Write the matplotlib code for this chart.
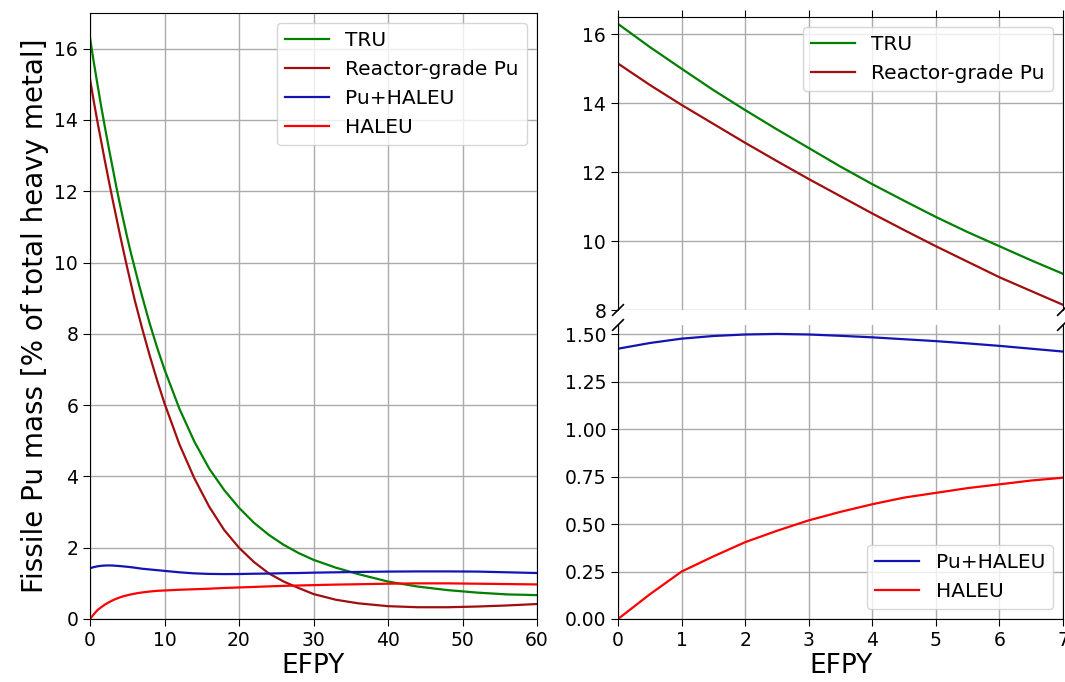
import matplotlib
matplotlib.use("Agg")
import matplotlib.pyplot as plt

# burnup time (EFPY) and fissile Pu content for each fuel type
efpy = [0, 0.5, 1, 1.5, 2, 2.5, 3, 3.5, 4, 4.5, 5, 5.5, 6, 6.5, 7, 8, 9, 10,
        12, 14, 16, 18, 20, 22, 24, 26, 28, 30, 33, 36, 40, 44, 48, 52, 56, 60]
tru = [16.3, 15.63, 15.0, 14.38, 13.8, 13.24, 12.7, 12.16, 11.65, 11.17, 10.7,
       10.26, 9.85, 9.44, 9.05, 8.3, 7.62, 7.0, 5.9, 4.98, 4.22, 3.62, 3.12,
       2.7, 2.36, 2.08, 1.85, 1.66, 1.44, 1.26, 1.05, 0.91, 0.81, 0.74, 0.69, 0.67]
rg_pu = [15.15, 14.53, 13.95, 13.4, 12.85, 12.32, 11.8, 11.3, 10.8, 10.32, 9.85,
         9.4, 8.95, 8.55, 8.15, 7.4, 6.7, 6.05, 4.9, 3.95, 3.15, 2.5, 2.0, 1.6,
         1.28, 1.05, 0.87, 0.7, 0.54, 0.44, 0.36, 0.33, 0.33, 0.35, 0.38, 0.42]
pu_haleu = [1.425, 1.455, 1.478, 1.492, 1.5, 1.503, 1.5, 1.493, 1.485, 1.475,
            1.465, 1.453, 1.44, 1.425, 1.41, 1.39, 1.37, 1.35, 1.31, 1.28, 1.265,
            1.26, 1.262, 1.27, 1.275, 1.285, 1.29, 1.3, 1.31, 1.32, 1.33, 1.335,
            1.335, 1.33, 1.31, 1.29]
haleu = [0.0, 0.13, 0.25, 0.33, 0.405, 0.465, 0.52, 0.565, 0.605, 0.64, 0.665,
         0.69, 0.71, 0.73, 0.745, 0.77, 0.79, 0.8, 0.82, 0.835, 0.85, 0.87, 0.885,
         0.9, 0.915, 0.93, 0.94, 0.95, 0.965, 0.975, 0.99, 1.0, 1.0, 0.99, 0.98, 0.97]

labels = ["TRU", "Reactor-grade Pu", "Pu+HALEU", "HALEU"]
colors = ["green", "#a00e0e", "#1414b4", "red"]
series = [tru, rg_pu, pu_haleu, haleu]

W, H = 1065, 682
fig = plt.figure(figsize=(W / 100, H / 100), dpi=100)


def box(x0, y0, x1, y1):
    return [x0 / W, 1 - y1 / H, (x1 - x0) / W, (y1 - y0) / H]


fs = 13.5
lfs = 14.5
lw = 1.6

# full range
ax = fig.add_axes(box(90, 13, 537, 619))
for ys, lab, c in zip(series, labels, colors):
    ax.plot(efpy, ys, color=c, lw=lw, label=lab)
ax.set_xlim(0, 60)
ax.set_ylim(0, 17)
ax.set_yticks(range(0, 17, 2))
ax.grid(True, color="#ababab", lw=1)
ax.tick_params(labelsize=fs, length=5)
ax.set_xlabel("EFPY", fontsize=19, labelpad=2)
ax.set_ylabel("Fissile Pu mass [% of total heavy metal]", fontsize=20)
ax.legend(loc="upper right", fontsize=lfs, handlelength=2.2)

# first 7 years, broken y axis
top = fig.add_axes(box(618, 17, 1063, 310))
bot = fig.add_axes(box(618, 325, 1063, 619))
for a in (top, bot):
    for ys, lab, c in zip(series, labels, colors):
        a.plot(efpy, ys, color=c, lw=lw, label=lab)
    a.set_xlim(0, 7)
    a.set_xticks(range(8))
    a.grid(True, color="#ababab", lw=1)
    a.tick_params(labelsize=fs, length=5)

top.set_ylim(8, 16.5)
top.set_yticks([8, 10, 12, 14, 16])
top.spines["bottom"].set_visible(False)
top.xaxis.tick_top()
top.tick_params(labeltop=False)

bot.set_ylim(0, 1.55)
bot.set_yticks([0, 0.25, 0.5, 0.75, 1.0, 1.25, 1.5])
bot.set_yticklabels(["0.00", "0.25", "0.50", "0.75", "1.00", "1.25", "1.50"])
bot.spines["top"].set_visible(False)
bot.xaxis.tick_bottom()
bot.set_xlabel("EFPY", fontsize=19, labelpad=2)

h, l = top.get_legend_handles_labels()
top.legend(h[:2], l[:2], loc="upper right", fontsize=lfs, handlelength=2.2)
h, l = bot.get_legend_handles_labels()
bot.legend(h[2:], l[2:], loc="lower right", fontsize=lfs, handlelength=2.2)

# break marks
d = 0.012
kw = dict(color="k", clip_on=False, lw=1.2)
top.plot((-d, d), (-d * 1.5, d * 1.5), transform=top.transAxes, **kw)
top.plot((1 - d, 1 + d), (-d * 1.5, d * 1.5), transform=top.transAxes, **kw)
bot.plot((-d, d), (1 - d * 1.5, 1 + d * 1.5), transform=bot.transAxes, **kw)
bot.plot((1 - d, 1 + d), (1 - d * 1.5, 1 + d * 1.5), transform=bot.transAxes, **kw)

fig.savefig("out.png", dpi=100)
